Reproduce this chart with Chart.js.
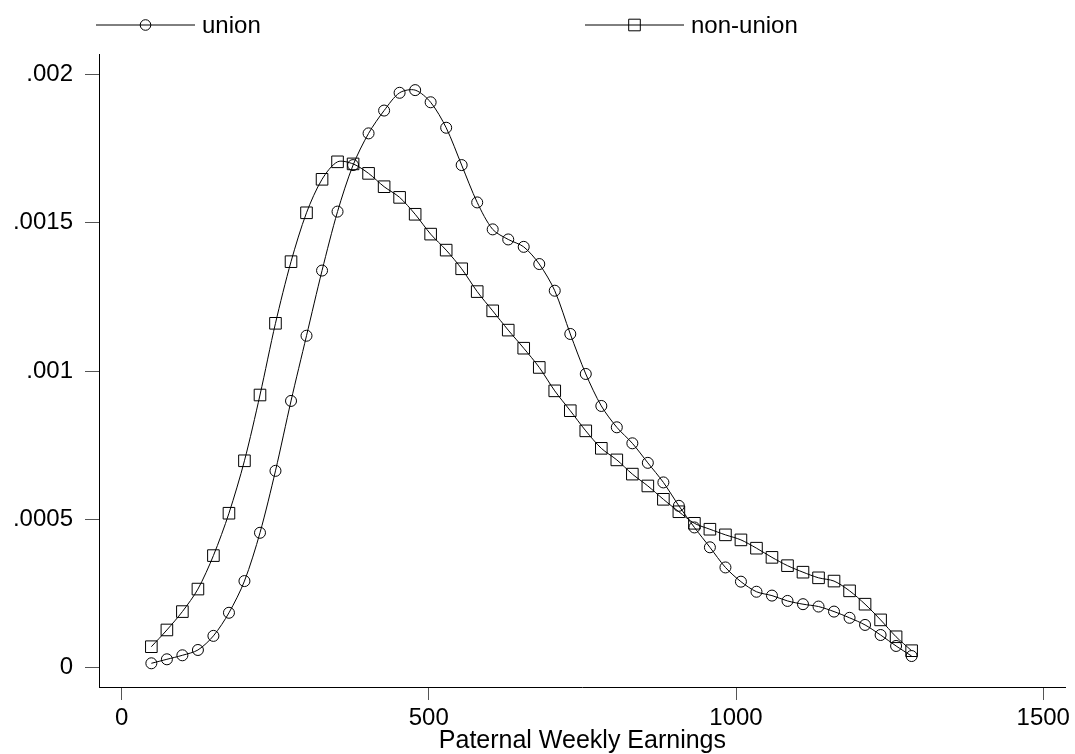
<!DOCTYPE html>
<html>
<head>
<meta charset="utf-8">
<title>Paternal Weekly Earnings</title>
<script src="https://cdn.jsdelivr.net/npm/chart.js@4.4.1/dist/chart.umd.min.js"></script>
<style>
    html, body { margin: 0; padding: 0; background: #fff; }
    #quadro { position: relative; width: 1075px; height: 754px; }
</style>
</head>
<body>
<div id="quadro"><canvas id="densidadeChart"></canvas></div>
<script>
/* ==============================================
   DADOS
   ============================================== */
const earnings = [
    48.5, 73.8, 99, 124.3, 149.5, 174.8, 200, 225.3, 250.5, 275.8,
    301, 326.3, 351.5, 376.8, 402, 427.3, 452.5, 477.8, 503, 528.3,
    553.5, 578.8, 604, 629.3, 654.5, 679.8, 705, 730.3, 755.5, 780.8,
    806, 831.3, 856.5, 881.8, 907, 932.3, 957.5, 982.8, 1008, 1033.3,
    1058.5, 1083.8, 1109, 1134.3, 1159.5, 1184.8, 1210, 1235.3, 1260.5, 1285.8
];

const union = [
    0.0000135, 0.000027, 0.0000405, 0.0000584, 0.000106, 0.000184, 0.000291, 0.000454, 0.000663, 0.000899,
    0.001119, 0.001339, 0.001538, 0.001695, 0.001802, 0.001879, 0.001939, 0.001948, 0.001907, 0.001821,
    0.001695, 0.001569, 0.001478, 0.001444, 0.001419, 0.001361, 0.001271, 0.001125, 0.00099, 0.000882,
    0.00081, 0.000756, 0.00069, 0.000624, 0.000545, 0.000472, 0.000405, 0.000337, 0.000289, 0.000255,
    0.000242, 0.000224, 0.000213, 0.000205, 0.000188, 0.000167, 0.000143, 0.000109, 0.000072, 0.000038
];

const nonUnion = [
    0.0000695, 0.000126, 0.000188, 0.000264, 0.000377, 0.00052, 0.000697, 0.000919, 0.001161, 0.001369,
    0.001534, 0.001647, 0.001706, 0.001699, 0.001667, 0.001622, 0.001586, 0.001529, 0.001462, 0.001408,
    0.001345, 0.001268, 0.001203, 0.001138, 0.001077, 0.001012, 0.000933, 0.000866, 0.000798, 0.000739,
    0.0007, 0.000652, 0.000612, 0.000567, 0.000525, 0.000486, 0.000466, 0.000447, 0.00043, 0.000402,
    0.000371, 0.000343, 0.000321, 0.000302, 0.000291, 0.000258, 0.000213, 0.00016, 0.000103, 0.000056
];

const seriesNames = ['union', 'non-union'];
const xTicks = [0, 500, 1000, 1500];
const yTicks = [0, 0.0005, 0.001, 0.0015, 0.002];
const yTickLabels = ['0', '.0005', '.001', '.0015', '.002'];
const xTitle = 'Paternal Weekly Earnings';

/* ==============================================
   LEGENDA NO ESTILO STATA (linha com marcador)
   ============================================== */
const FONTE = '"Liberation Sans", Arial, sans-serif';

const legendaStata = {
    id: 'legendaStata',
    afterDraw(chart) {
        const ctx = chart.ctx;
        const itens = [
            { x0: 96, estilo: 'circle' },
            { x0: 585, estilo: 'rect' }
        ];
        const yLinha = 25;
        ctx.save();
        ctx.strokeStyle = '#000';
        ctx.lineWidth = 1;
        itens.forEach((item, i) => {
            const meio = item.x0 + 49.5;
            ctx.beginPath();
            ctx.moveTo(item.x0, yLinha);
            ctx.lineTo(item.x0 + 99, yLinha);
            ctx.stroke();
            ctx.beginPath();
            if (item.estilo === 'circle') {
                ctx.arc(meio, yLinha, 5.3, 0, Math.PI * 2);
            } else {
                ctx.rect(meio - 5.8, yLinha - 5.8, 11.6, 11.6);
            }
            ctx.stroke();
            ctx.fillStyle = '#000';
            ctx.font = '24px ' + FONTE;
            ctx.textBaseline = 'alphabetic';
            ctx.textAlign = 'left';
            ctx.fillText(chart.data.datasets[i].label, item.x0 + 106, 33);
        });
        ctx.restore();
    }
};

/* ==============================================
   GRÁFICO
   ============================================== */
function inicializarGrafico() {
    const ctx = document.getElementById('densidadeChart').getContext('2d');
    const pontos = (serie) => earnings.map((e, i) => ({ x: e, y: serie[i] }));

    new Chart(ctx, {
        type: 'line',
        data: {
            datasets: [
                {
                    label: seriesNames[0],
                    data: pontos(union),
                    borderColor: '#000',
                    borderWidth: 1,
                    tension: 0.3,
                    fill: false,
                    pointStyle: 'circle',
                    pointRadius: 5.5,
                    pointBorderWidth: 1,
                    pointBorderColor: '#000',
                    pointBackgroundColor: 'rgba(0,0,0,0)'
                },
                {
                    label: seriesNames[1],
                    data: pontos(nonUnion),
                    borderColor: '#000',
                    borderWidth: 1,
                    tension: 0.3,
                    fill: false,
                    pointStyle: 'rect',
                    pointRadius: 8.2,
                    pointBorderWidth: 1,
                    pointBorderColor: '#000',
                    pointBackgroundColor: 'rgba(0,0,0,0)'
                }
            ]
        },
        options: {
            responsive: true,
            maintainAspectRatio: false,
            animation: false,
            layout: { padding: { top: 54, right: 3, left: 0, bottom: 0 } },
            plugins: {
                legend: { display: false },
                tooltip: { enabled: false }
            },
            scales: {
                x: {
                    type: 'linear',
                    min: -36.7,
                    max: 1536.7,
                    afterBuildTicks: (s) => { s.ticks = xTicks.map(v => ({ value: v })); },
                    afterFit: (s) => { s.height = 67; s.paddingLeft = 0; s.paddingRight = 0; },
                    grid: { drawOnChartArea: false, drawTicks: true, tickLength: 13, color: '#555', lineWidth: 1 },
                    border: { display: true, color: '#000', width: 1 },
                    ticks: {
                        color: '#000',
                        font: { size: 24, family: FONTE },
                        padding: 4,
                        maxRotation: 0,
                        autoSkip: false,
                        callback: (v) => String(v)
                    },
                    title: {
                        display: true,
                        text: xTitle,
                        color: '#000',
                        font: { size: 25, family: FONTE, lineHeight: 1 },
                        padding: { top: 0, bottom: 0.5 }
                    }
                },
                y: {
                    type: 'linear',
                    min: -0.0000665,
                    max: 0.0020699,
                    afterBuildTicks: (s) => { s.ticks = yTicks.map(v => ({ value: v })); },
                    afterFit: (s) => { s.width = 99; s.paddingTop = 0; s.paddingBottom = 0; },
                    grid: { drawOnChartArea: false, drawTicks: true, tickLength: 14, color: '#555', lineWidth: 1 },
                    border: { display: true, color: '#000', width: 1 },
                    ticks: {
                        color: '#000',
                        font: { size: 24, family: FONTE },
                        padding: 12,
                        autoSkip: false,
                        callback: (v) => yTickLabels[yTicks.indexOf(v)] ?? ''
                    }
                }
            }
        },
        plugins: [legendaStata]
    });
}

window.onload = () => {
    inicializarGrafico();
};
</script>
</body>
</html>
